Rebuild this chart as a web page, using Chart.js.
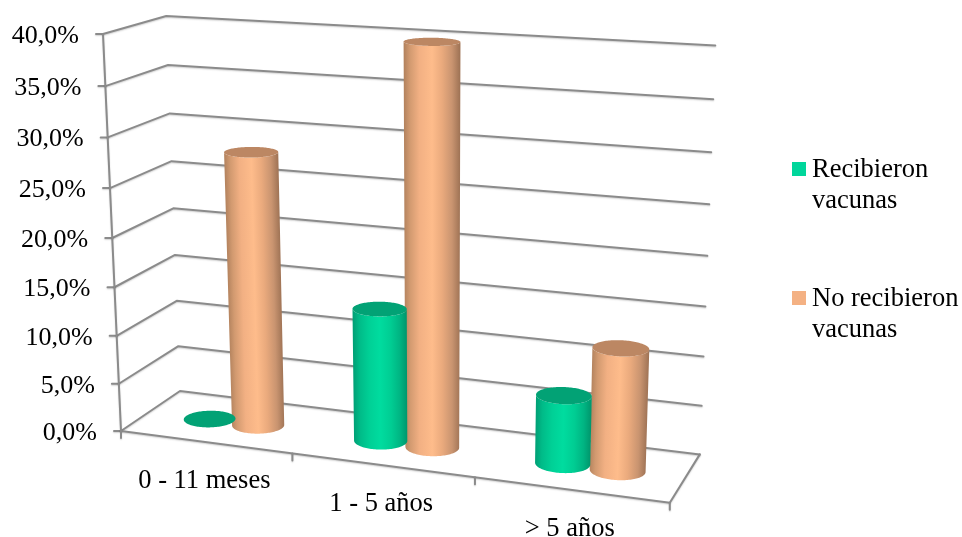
<!DOCTYPE html>
<html lang="es">
<head>
<meta charset="utf-8">
<title>Vacunación por grupo de edad</title>
<script src="https://cdn.jsdelivr.net/npm/chart.js@4"></script>
<style>
  html, body { margin: 0; padding: 0; background: #fff; }
  canvas { display: block; }
</style>
</head>
<body>
<canvas id="chart" width="962" height="537"></canvas>
<script>
const categories = ['0 - 11 meses', '1 - 5 años', '> 5 años'];
const recibieron = [0, 13.6, 6.9];
const noRecibieron = [28.2, 40, 12.2];
const seriesNames = ['Recibieron vacunas', 'No recibieron vacunas'];
const legendLines = [['Recibieron', 'vacunas'], ['No recibieron', 'vacunas']];
const valueMax = 40;
const valueStep = 5;

const FAMILY = '"Liberation Serif", "Times New Roman", serif';
const GRID = '#8b8b8b';
const SWATCH = ['#00d69b', '#f4b183'];
const CAP = ['#02a275', '#bc8763'];
const SHADES = [
  [[0, '#009f75'], [0.12, '#00bb88'], [0.3, '#00d096'], [0.5, '#00dc9f'], [0.7, '#00cd93'], [0.87, '#00b482'], [1, '#00966c']],
  [[0, '#b5845f'], [0.1, '#d29a70'], [0.27, '#f2b083'], [0.5, '#febc8b'], [0.68, '#eaaa7d'], [0.86, '#c99470'], [1, '#a07456']]
];

// Image of the plot box corners; (across, depth, height) in the unit cube.
const boxFrontLeft = [121, 431];
const boxFrontRight = [669.8, 502.7];
const boxBackLeft = [180, 391];
const boxBackRight = [699.8, 454.4];
const boxTopFrontLeft = [103, 34];
const axisMidY = 238;

const barAcrossShift = 0.003;
const barDepthCentre = 0.475;
const barDepthRadius = 0.19;

function det3(m) {
  return m[0][0] * (m[1][1] * m[2][2] - m[1][2] * m[2][1])
       - m[0][1] * (m[1][0] * m[2][2] - m[1][2] * m[2][0])
       + m[0][2] * (m[1][0] * m[2][1] - m[1][1] * m[2][0]);
}

// Perspective box built from the corner images above.
function makeProjection() {
  const O = [...boxFrontLeft, 1], X = [...boxFrontRight, 1], Y = [...boxBackLeft, 1];
  const D = [...boxBackRight, 1], Z = [...boxTopFrontLeft, 1];
  const rows = [0, 1, 2];
  const d = det3(rows.map(i => [X[i], Y[i], -D[i]]));
  const a = det3(rows.map(i => [O[i], Y[i], -D[i]])) / d;
  const b = det3(rows.map(i => [X[i], O[i], -D[i]])) / d;
  const c = (O[1] - axisMidY) / (axisMidY - Z[1]);
  const ex = rows.map(i => a * X[i] - O[i]);
  const ey = rows.map(i => b * Y[i] - O[i]);
  const ez = rows.map(i => c * Z[i] - O[i]);
  return (u, v, w) => {
    const h = rows.map(i => O[i] + u * ex[i] + v * ey[i] + w * ez[i]);
    return [h[0] / h[2], h[1] / h[2]];
  };
}
const project = makeProjection();

const toAcross = (scale, px) => (px - scale.left) / scale.width;
const toHeight = (scale, px) => (scale.bottom - px) / scale.height;

function segment(ctx, a, b) {
  ctx.beginPath();
  ctx.moveTo(a[0], a[1]);
  ctx.lineTo(b[0], b[1]);
  ctx.stroke();
}

// Column controller that renders each bar as a cylinder standing in the box.
class CylinderController extends Chart.BarController {
  draw() {
    const ctx = this.chart.ctx;
    const xs = this.getScaleForId(this.getMeta().xAxisID);
    const ys = this.getScaleForId(this.getMeta().yAxisID);
    const idx = this.index;
    this.getMeta().data.forEach(bar => {
      const uc = toAcross(xs, bar.x) + barAcrossShift;
      const ru = bar.width / 2 / xs.width;
      const top = toHeight(ys, bar.y);
      const base = toHeight(ys, bar.base);
      const ring = (t, w) => project(uc + ru * Math.cos(t), barDepthCentre + barDepthRadius * Math.sin(t), w);
      const steps = 120;
      let tL = Math.PI, tR = Math.PI * 2, minX = Infinity, maxX = -Infinity;
      for (let k = 0; k < steps; k++) {
        const t = k / steps * Math.PI * 2;
        const p = ring(t, (top + base) / 2);
        if (p[0] < minX) { minX = p[0]; tL = t; }
        if (p[0] > maxX) { maxX = p[0]; tR = t; }
      }
      if (tR < tL) tR += Math.PI * 2;
      ctx.save();
      if (top > base) {
        ctx.beginPath();
        for (let k = 0; k <= 60; k++) {
          const p = ring(tL + (tR - tL) * k / 60, base);
          if (k) ctx.lineTo(p[0], p[1]); else ctx.moveTo(p[0], p[1]);
        }
        for (let k = 60; k >= 0; k--) {
          const p = ring(tL + (tR - tL) * k / 60, top);
          ctx.lineTo(p[0], p[1]);
        }
        ctx.closePath();
        // Shear the shading so it runs along the slanted column axis.
        const b0 = project(uc, barDepthCentre, base), t0 = project(uc, barDepthCentre, top);
        const shear = (t0[0] - b0[0]) / (t0[1] - b0[1]);
        const midY = (b0[1] + t0[1]) / 2;
        ctx.transform(1, 0, shear, 1, -shear * midY, 0);
        const grad = ctx.createLinearGradient(minX, 0, maxX, 0);
        SHADES[idx].forEach(s => grad.addColorStop(s[0], s[1]));
        ctx.fillStyle = grad;
        ctx.fill();
        ctx.setTransform(1, 0, 0, 1, 0, 0);
      }
      ctx.fillStyle = CAP[idx];
      ctx.beginPath();
      for (let k = 0; k < steps; k++) {
        const p = ring(k / steps * Math.PI * 2, top);
        if (k) ctx.lineTo(p[0], p[1]); else ctx.moveTo(p[0], p[1]);
      }
      ctx.closePath();
      ctx.fill();
      ctx.restore();
    });
  }
}
CylinderController.id = 'cylinder';
CylinderController.defaults = Chart.BarController.defaults;
CylinderController.overrides = Chart.BarController.overrides;
Chart.register(CylinderController);

const boxFrame = {
  id: 'boxFrame',
  beforeDatasetsDraw(chart) {
    const ctx = chart.ctx;
    const xs = chart.scales.x, ys = chart.scales.y;
    ctx.save();
    ctx.strokeStyle = GRID;
    ctx.lineWidth = 2;
    ctx.lineCap = 'round';
    ctx.lineJoin = 'round';
    ctx.shadowColor = 'rgba(0,0,0,0.18)';
    ctx.shadowBlur = 1.5;
    ctx.shadowOffsetY = 1;

    ys.ticks.forEach(tick => {
      const w = toHeight(ys, ys.getPixelForValue(tick.value));
      const front = project(0, 0, w), back = project(0, 1, w), right = project(1, 1, w);
      ctx.beginPath();
      ctx.moveTo(front[0], front[1]);
      ctx.lineTo(back[0], back[1]);
      ctx.lineTo(right[0], right[1]);
      ctx.stroke();
      segment(ctx, [front[0] - 7, front[1]], front);
    });

    segment(ctx, project(0, 0, 0), project(0, 0, 1));
    ctx.beginPath();
    [project(0, 0, 0), project(1, 0, 0), project(1, 1, 0)].forEach((p, i) => {
      if (i) ctx.lineTo(p[0], p[1]); else ctx.moveTo(p[0], p[1]);
    });
    ctx.stroke();

    for (let i = 0; i <= categories.length; i++) {
      const p = project(toAcross(xs, xs.getPixelForValue(i - 0.5)), 0, 0);
      segment(ctx, p, [p[0], p[1] + 7]);
    }
    ctx.restore();
  },
  afterDatasetsDraw(chart) {
    const ctx = chart.ctx;
    const xs = chart.scales.x, ys = chart.scales.y;
    ctx.save();
    ctx.font = '26px ' + FAMILY;
    ctx.fillStyle = '#000';
    ctx.textBaseline = 'middle';

    ctx.textAlign = 'right';
    ys.ticks.forEach(tick => {
      const p = project(0, 0, toHeight(ys, ys.getPixelForValue(tick.value)));
      ctx.fillText(tick.label, p[0] - 24, p[1] + 2);
    });

    ctx.font = '26.5px ' + FAMILY;
    ctx.textAlign = 'center';
    xs.ticks.forEach((tick, i) => {
      const p = project(toAcross(xs, xs.getPixelForValue(i)), 0, 0);
      ctx.fillText(categories[i], p[0] - 1, p[1] + 39);
    });

    ctx.textAlign = 'left';
    const swatchY = [162, 291];
    legendLines.forEach((lines, i) => {
      ctx.fillStyle = SWATCH[i];
      ctx.fillRect(792, swatchY[i], 14, 14);
      ctx.fillStyle = '#000';
      lines.forEach((line, j) => ctx.fillText(line, 812, swatchY[i] + 8 + j * 31));
    });
    ctx.restore();
  }
};

new Chart(document.getElementById('chart'), {
  type: 'cylinder',
  data: {
    labels: categories,
    datasets: [
      { label: seriesNames[0], data: recibieron, backgroundColor: SWATCH[0], clip: false },
      { label: seriesNames[1], data: noRecibieron, backgroundColor: SWATCH[1], clip: false }
    ]
  },
  plugins: [boxFrame],
  options: {
    responsive: false,
    animation: false,
    devicePixelRatio: 1,
    layout: { padding: { left: 121, right: 293.2, top: 34, bottom: 106 } },
    categoryPercentage: 0.58,
    barPercentage: 0.98,
    plugins: { legend: { display: false }, tooltip: { enabled: false } },
    scales: {
      x: { type: 'category', display: false, offset: true },
      y: {
        type: 'linear',
        display: false,
        min: 0,
        max: valueMax,
        ticks: { stepSize: valueStep, callback: v => v.toFixed(1).replace('.', ',') + '%' }
      }
    }
  }
});
</script>
</body>
</html>
